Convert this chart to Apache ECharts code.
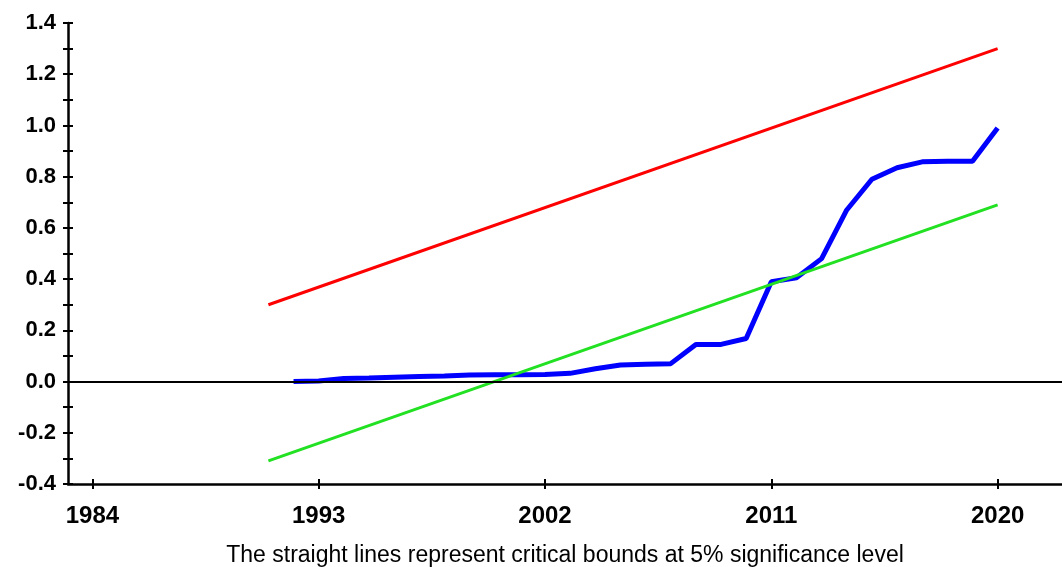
<!DOCTYPE html>
<html>
<head>
<meta charset="utf-8">
<script src="https://cdn.jsdelivr.net/npm/echarts@6/dist/echarts.min.js"></script>
<style>
  html, body { margin: 0; padding: 0; background: #ffffff; }
  #chart { width: 1062px; height: 567px; }
</style>
</head>
<body>
<div id="chart"></div>
<script>
// CUSUM of squares statistic, one value per year
const cusumYears = [1992, 1993, 1994, 1995, 1996, 1997, 1998, 1999, 2000, 2001,
                    2002, 2003, 2004, 2005, 2006, 2007, 2008, 2009, 2010, 2011,
                    2012, 2013, 2014, 2015, 2016, 2017, 2018, 2019, 2020];
const cusumSq = [0.000, 0.002, 0.012, 0.014, 0.017, 0.020, 0.022, 0.026, 0.027, 0.027,
                 0.028, 0.032, 0.050, 0.065, 0.068, 0.070, 0.145, 0.145, 0.168, 0.390,
                 0.405, 0.480, 0.670, 0.790, 0.835, 0.858, 0.860, 0.860, 0.990];

// 5% critical bounds (straight lines), start and end points
const boundYears = [1991, 2020];
const upperBound = [0.30, 1.30];
const lowerBound = [-0.31, 0.69];

// axis tick labels
const yearTicks = [1984, 1993, 2002, 2011, 2020];
const noteText = 'The straight lines represent critical bounds at 5% significance level';

const pairs = (xs, ys) => xs.map((x, i) => [x, ys[i]]);

const X_MIN = 1983.03, X_MAX = 2022.56;
const Y_MIN = -0.4, Y_MAX = 1.4;
const FONT = '"Liberation Sans", Arial, sans-serif';
const AXIS_LINE = { show: true, onZero: false, lineStyle: { color: '#000', width: 2.5 } };
const TICK_STYLE = { color: '#000', width: 2 };

const chart = echarts.init(document.getElementById('chart'), null, { renderer: 'canvas' });

const yLabel = v => {
  const k = Math.round(v * 10);
  return k % 2 === 0 ? (k / 10).toFixed(1) : '';
};

chart.setOption({
  backgroundColor: '#ffffff',
  animation: false,
  grid: { left: 68, right: 0, top: 23, bottom: 83, containLabel: false },
  xAxis: [
    {
      type: 'value', min: X_MIN, max: X_MAX, position: 'bottom',
      axisLine: AXIS_LINE,
      splitLine: { show: false },
      axisTick: { show: true, inside: false, length: 5, customValues: yearTicks, lineStyle: TICK_STYLE },
      axisLabel: { show: true, customValues: yearTicks, margin: 20,
                   color: '#000', fontFamily: FONT, fontWeight: 'bold', fontSize: 24,
                   formatter: v => String(Math.round(v)) }
    },
    {
      // inner half of the crossing tick marks
      type: 'value', min: X_MIN, max: X_MAX, position: 'bottom',
      axisLine: { show: false, onZero: false },
      splitLine: { show: false },
      axisTick: { show: true, inside: true, length: 5, customValues: yearTicks, lineStyle: TICK_STYLE },
      axisLabel: { show: false }
    }
  ],
  yAxis: [
    {
      type: 'value', min: Y_MIN, max: Y_MAX, interval: 0.1,
      axisLine: AXIS_LINE,
      splitLine: { show: false },
      axisTick: { show: true, inside: false, length: 5, lineStyle: TICK_STYLE },
      axisLabel: { show: true, margin: 12, color: '#000', fontFamily: FONT,
                   fontWeight: 'bold', fontSize: 22, formatter: yLabel }
    },
    {
      // inner half of the crossing tick marks
      type: 'value', min: Y_MIN, max: Y_MAX, interval: 0.1, position: 'left',
      axisLine: { show: false, onZero: false },
      splitLine: { show: false },
      axisTick: { show: true, inside: true, length: 5, lineStyle: TICK_STYLE },
      axisLabel: { show: false }
    }
  ],
  series: [
    {
      name: 'CUSUM of Squares', type: 'line', xAxisIndex: 0, yAxisIndex: 0,
      data: pairs(cusumYears, cusumSq),
      showSymbol: false, symbol: 'none', z: 3,
      lineStyle: { color: '#0000ff', width: 5 },
      markLine: {
        silent: true, symbol: 'none', label: { show: false },
        lineStyle: { color: '#000', width: 2, type: 'solid' },
        data: [{ yAxis: 0 }]
      }
    },
    {
      name: 'Upper bound', type: 'line', xAxisIndex: 0, yAxisIndex: 0,
      data: pairs(boundYears, upperBound),
      showSymbol: false, symbol: 'none', z: 4,
      lineStyle: { color: '#ff0000', width: 3 }
    },
    {
      name: 'Lower bound', type: 'line', xAxisIndex: 0, yAxisIndex: 0,
      data: pairs(boundYears, lowerBound),
      showSymbol: false, symbol: 'none', z: 4,
      lineStyle: { color: '#22e022', width: 3 }
    }
  ],
  graphic: [
    {
      type: 'text', x: 565, y: 544,
      style: { text: noteText, fill: '#000', font: '23px ' + FONT, align: 'center' }
    }
  ]
});
</script>
</body>
</html>
